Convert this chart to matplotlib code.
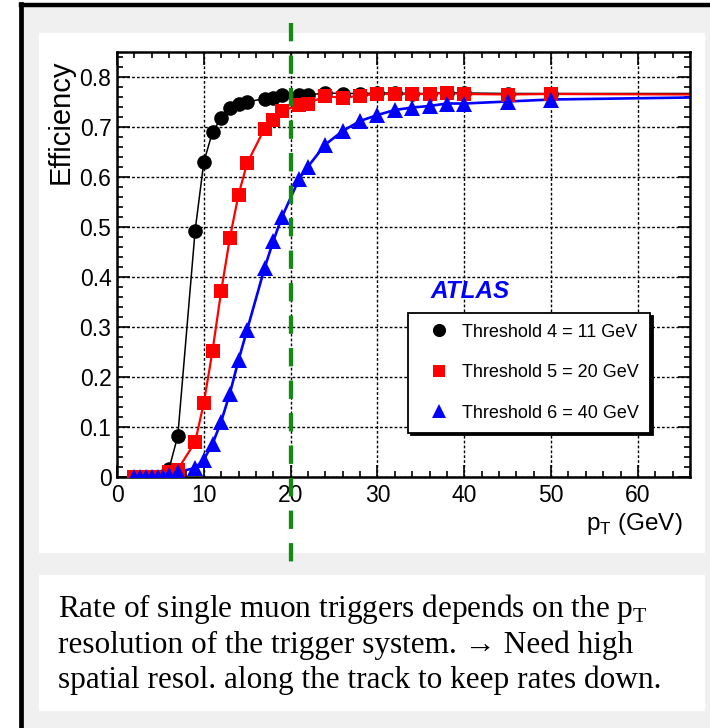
import numpy as np
import matplotlib
matplotlib.use('Agg')
import matplotlib.pyplot as plt
import matplotlib.transforms as mtransforms
from matplotlib.patches import Rectangle
from matplotlib.lines import Line2D
from matplotlib.ticker import MultipleLocator

plt.rcParams['font.family'] = ['Liberation Sans', 'DejaVu Sans']
plt.rcParams['mathtext.fontset'] = 'custom'
plt.rcParams['mathtext.rm'] = 'Liberation Serif'
plt.rcParams['mathtext.sf'] = 'Liberation Sans'

# muon pT (GeV) at which the efficiency was measured
pt = [2.0, 2.7, 3.3, 4.0, 4.7, 5.3, 6, 7, 9, 10, 11, 12, 13, 14, 15, 17, 18, 19,
      21, 22, 24, 26, 28, 30, 32, 34, 36, 38, 40, 45, 50]

# trigger efficiency per threshold
eff_thr4 = [0.0, 0.0, 0.0, 0.0, 0.0, 0.003, 0.017, 0.082, 0.493, 0.630, 0.690,
            0.718, 0.739, 0.747, 0.750, 0.757, 0.759, 0.764, 0.765, 0.764, 0.768,
            0.767, 0.767, 0.768, 0.768, 0.767, 0.767, 0.769, 0.768, 0.767, 0.767]
eff_thr5 = [0.0, 0.0, 0.0, 0.0, 0.0, 0.0, 0.010, 0.015, 0.070, 0.148, 0.252,
            0.372, 0.478, 0.565, 0.628, 0.697, 0.714, 0.732, 0.744, 0.747, 0.762,
            0.758, 0.763, 0.766, 0.766, 0.766, 0.766, 0.768, 0.766, 0.765, 0.766]
eff_thr6 = [0.0, 0.0, 0.0, 0.0, 0.0, 0.0, 0.004, 0.010, 0.018, 0.035, 0.066,
            0.111, 0.167, 0.234, 0.295, 0.418, 0.472, 0.520, 0.597, 0.621, 0.665,
            0.692, 0.712, 0.724, 0.734, 0.739, 0.742, 0.747, 0.747, 0.751, 0.755]

# curves continue flat to the end of the axis
pt_end = 66
plateau = [0.767, 0.765, 0.759]

labels = ['Threshold 4 = 11 GeV', 'Threshold 5 = 20 GeV', 'Threshold 6 = 40 GeV']
x_ticks = [0, 10, 20, 30, 40, 50, 60]
y_ticks = [0, 0.1, 0.2, 0.3, 0.4, 0.5, 0.6, 0.7, 0.8]
y_tick_labels = ['0', '0.1', '0.2', '0.3', '0.4', '0.5', '0.6', '0.7', '0.8']
cut_pt = 20

W, H = 710, 728
fig = plt.figure(figsize=(W / 100, H / 100), dpi=100, facecolor='white')


def box(x0, y0, x1, y1, color):
    # pixel box measured from the top-left corner of the page
    fig.patches.append(Rectangle((x0 / W, 1 - y1 / H), (x1 - x0) / W, (y1 - y0) / H,
                                 transform=fig.transFigure, facecolor=color,
                                 edgecolor='none', zorder=-2))


box(20, 5, W, H, '#f0f0f0')
box(39, 33, 705, 553, 'white')
box(39, 575, 705, 711, 'white')
fig.add_artist(Line2D([20.5 / W, 20.5 / W], [0, 1 - 4 / H], color='black', lw=3.4,
                      transform=fig.transFigure, solid_capstyle='projecting'))
fig.add_artist(Line2D([20.5 / W, 1], [1 - 4.8 / H, 1 - 4.8 / H], color='black', lw=3.2,
                      transform=fig.transFigure))

ax = fig.add_axes([117 / W, 1 - 477 / H, (690 - 117) / W, (477 - 52) / H])
ax.set_zorder(2)
ax.set_xlim(0, 66)
ax.set_ylim(0, 0.85)

styles = [('black', 'o', 10.5, 1.1), ('red', 's', 10, 1.6), ('blue', '^', 11.5, 1.9)]
for eff, end, (col, mk, ms, lw) in zip([eff_thr4, eff_thr5, eff_thr6], plateau, styles):
    ax.plot(pt + [pt_end], eff + [end], color=col, lw=lw, zorder=2)
    ax.plot(pt, eff, linestyle='none', marker=mk, markersize=ms, color=col,
            markeredgewidth=0, zorder=3)

ax.set_xticks(x_ticks)
ax.set_xticklabels([str(t) for t in x_ticks])
ax.set_yticks(y_ticks)
ax.set_yticklabels(y_tick_labels)
ax.xaxis.set_minor_locator(MultipleLocator(2))
ax.yaxis.set_minor_locator(MultipleLocator(0.02))
ax.tick_params(which='both', direction='in', top=True, right=True, width=1.2,
               labelsize=16.5, color='black')
ax.tick_params(which='major', length=9)
ax.tick_params(which='minor', length=4.5)
ax.tick_params(axis='x', pad=5)
ax.tick_params(axis='y', pad=4)
for sp in ax.spines.values():
    sp.set_linewidth(1.8)
ax.grid(True, which='major', color='black', linestyle=(0, (2, 1.5)), linewidth=1.0)

# cut line at 20 GeV runs past the frame
trans = mtransforms.blended_transform_factory(ax.transData, fig.transFigure)
ax.plot([cut_pt, cut_pt], [1 - 23 / H, 1 - 563 / H], transform=trans, clip_on=False,
        color='#138a13', lw=3.1, dashes=(4.25, 3.3), dash_capstyle='butt', zorder=10)

ax.text(36.1, 0.372, 'ATLAS', color='#0000ff', fontsize=17.5, fontweight='bold',
        fontstyle='italic', va='center', ha='left')

handles = [Line2D([], [], linestyle='none', marker=mk, markersize=ms * 0.9, color=col,
                  markeredgewidth=0) for col, mk, ms, lw in styles]
leg = ax.legend(handles, labels, loc='upper left', bbox_to_anchor=(0.508, 0.386),
                borderaxespad=0, fontsize=13, fancybox=False, edgecolor='black',
                framealpha=1, borderpad=0.6, labelspacing=1.3, handlelength=2.2,
                handletextpad=0.2, shadow={'color': 'black', 'alpha': 1})
leg.get_frame().set_linewidth(1.3)
leg.set_zorder(11)

fig.text(61 / W, 1 - 122 / H, 'Efficiency', rotation=90, ha='center', va='center',
         fontsize=21)
fig.text(683 / W, 1 - 530 / H, r'p$_\mathsf{T}$ (GeV)', ha='right', va='baseline',
         fontsize=17.5)

serif = ['Liberation Serif', 'DejaVu Serif']
fig.text(58 / W, 1 - 617 / H, r'Rate of single muon triggers depends on the p$_\mathrm{T}$',
         family=serif, fontsize=22.5, va='baseline')
fig.text(58 / W, 1 - 653 / H, 'resolution of the trigger system. \u2192 Need high',
         family=serif, fontsize=22.5, va='baseline')
fig.text(58 / W, 1 - 688 / H, 'spatial resol. along the track to keep rates down.',
         family=serif, fontsize=22.5, va='baseline')

fig.savefig('out.png', dpi=100, facecolor=fig.get_facecolor())
